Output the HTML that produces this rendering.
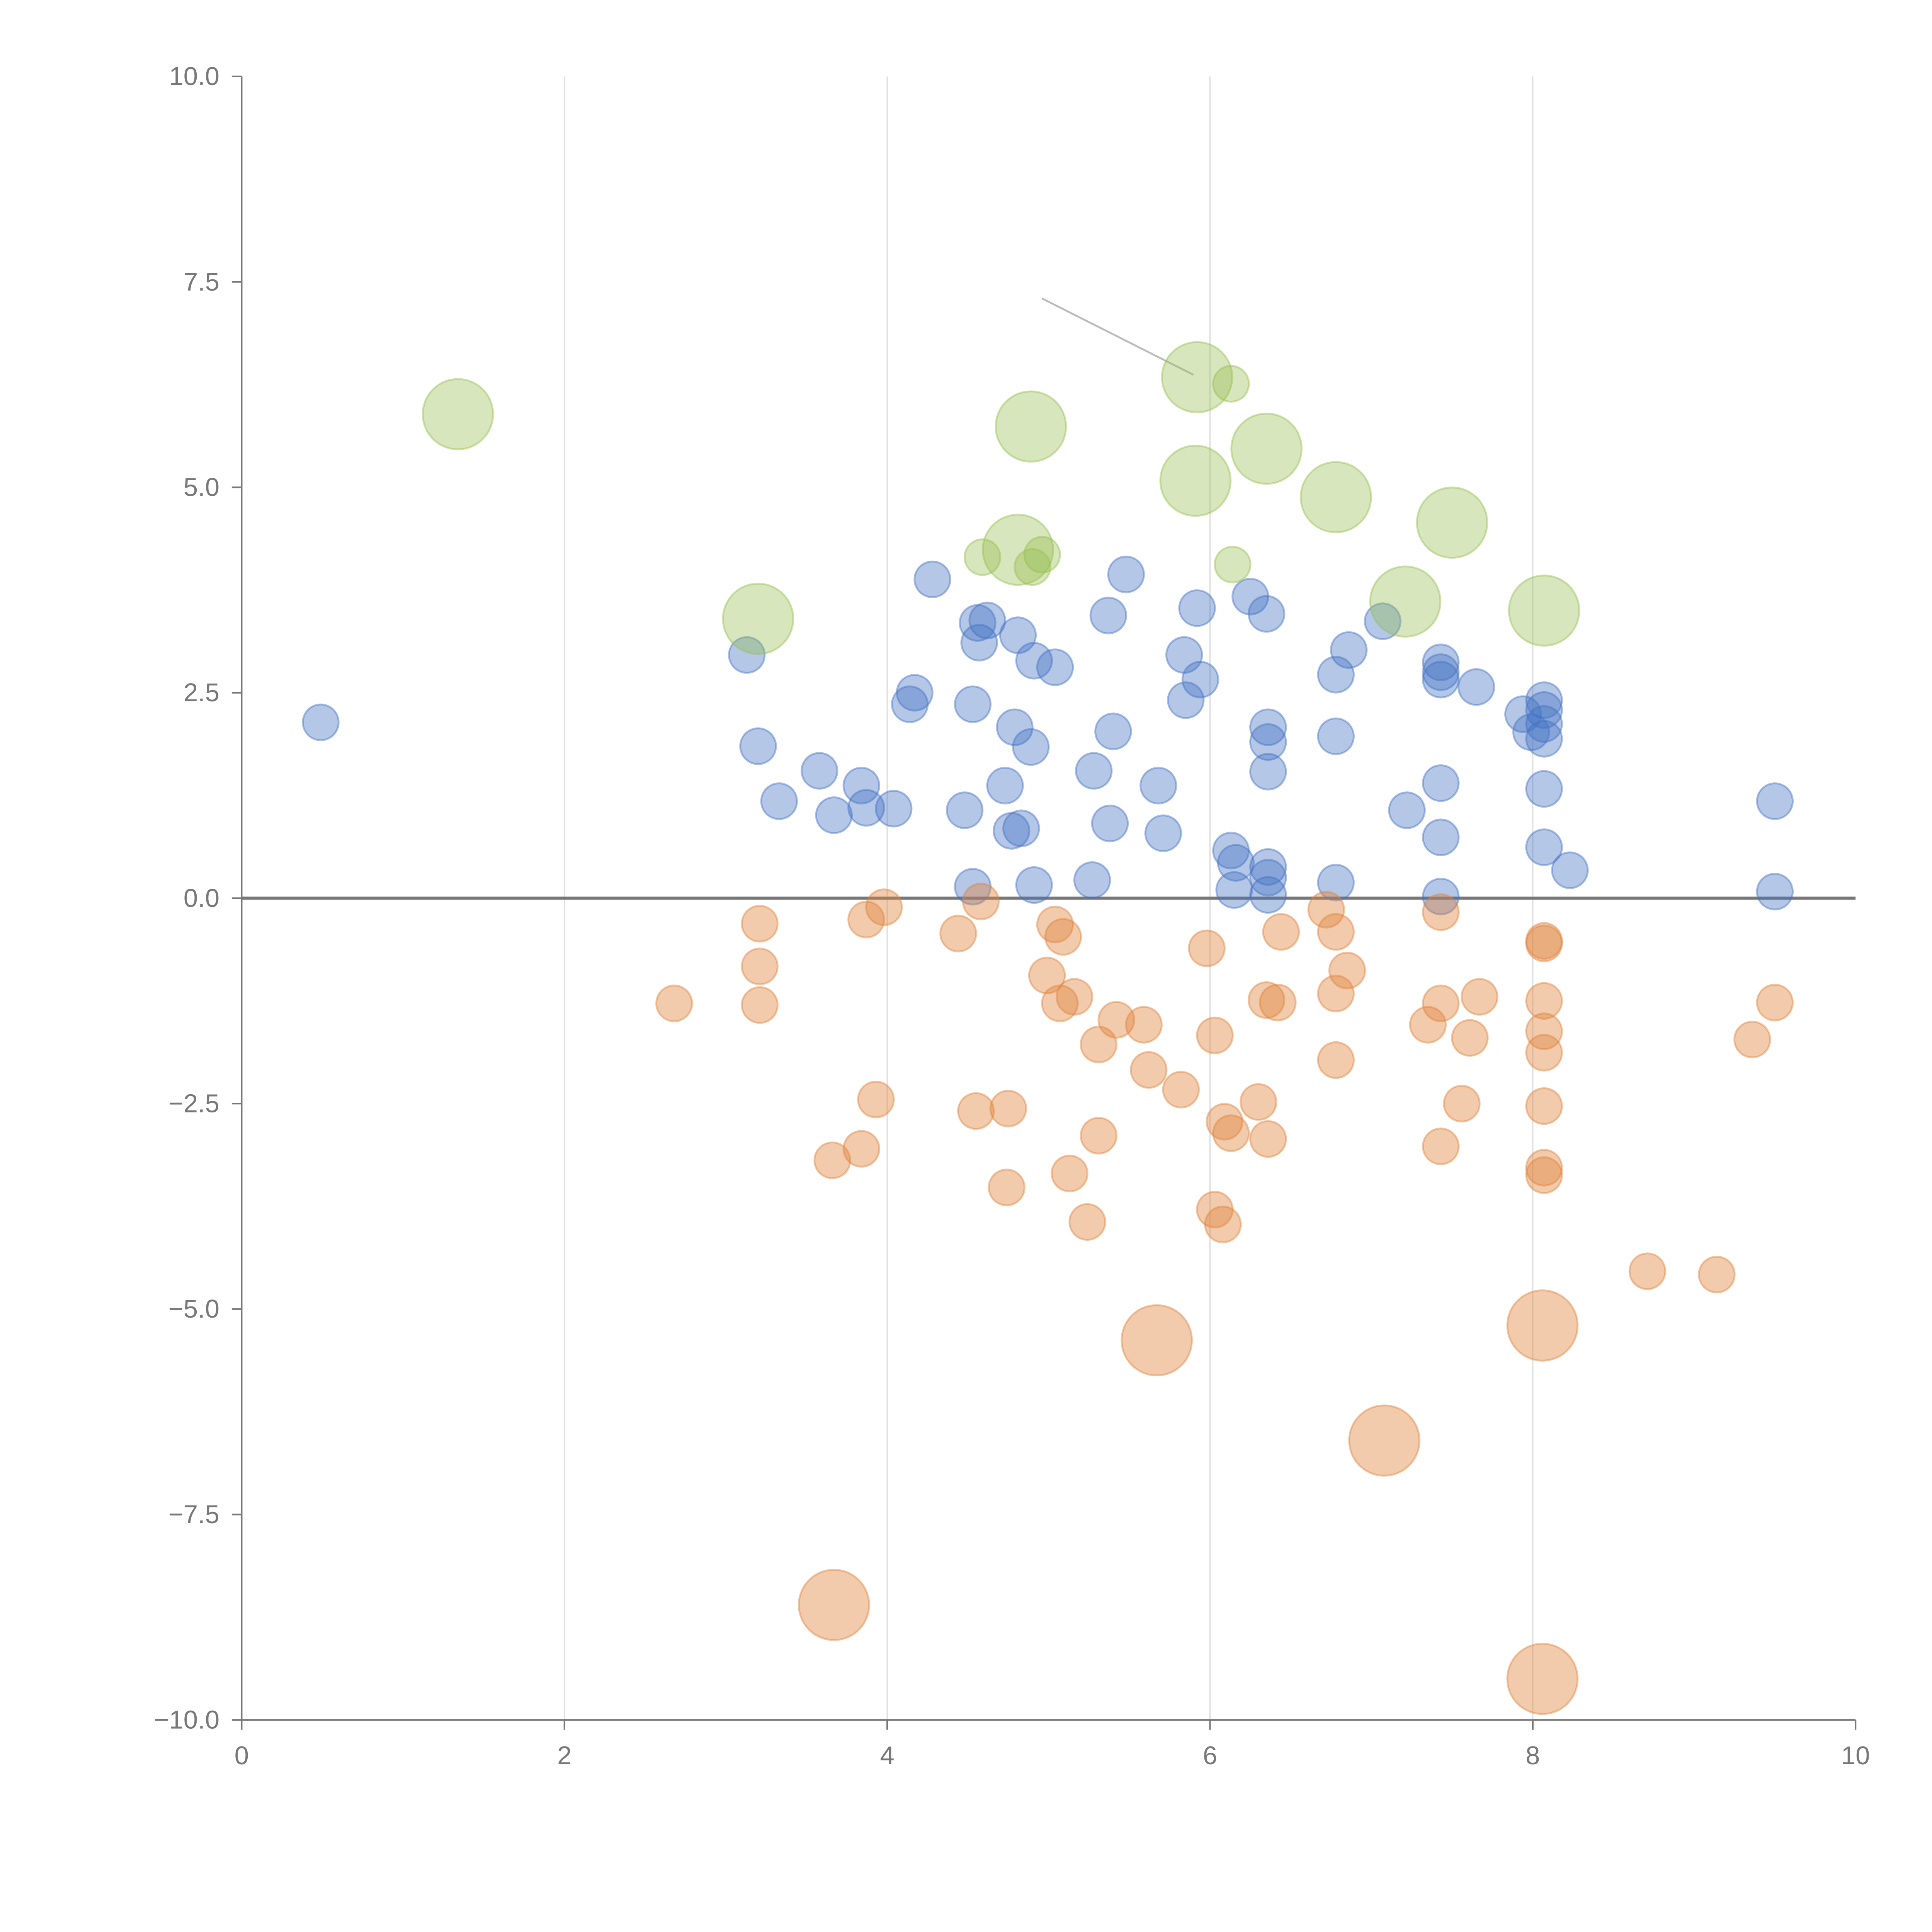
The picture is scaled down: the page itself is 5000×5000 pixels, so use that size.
<!DOCTYPE html>
<html><head><meta charset="utf-8"><style>
html,body{margin:0;padding:0;background:#fff;}
svg{display:block;}
text{font-family:"Liberation Sans",sans-serif;fill:#777;font-size:21px;}
</style></head><body>
<svg id="chart" width="5000" height="5000" viewBox="0 0 1567 1567" xmlns="http://www.w3.org/2000/svg">
<g id="grid"></g>
<g id="axes"></g>
<g id="marks"></g>
</svg>
<script>
const xTicks=[0,2,4,6,8,10];
const yTicks=[10,7.5,5,2.5,0,-2.5,-5,-7.5,-10];
const yTickLabels=["10.0","7.5","5.0","2.5","0.0","\u22122.5","\u22125.0","\u22127.5","\u221210.0"];
const blueX=[0.49,3.13,3.20,3.33,3.58,3.67,3.84,3.87,4.04,4.14,4.17,4.28,4.48,4.53,4.53,4.56,4.57,4.62,4.73,4.77,4.79,4.81,4.83,4.89,4.91,4.91,5.04,5.28,5.27,5.37,5.38,5.40,5.48,5.68,5.71,5.84,5.85,5.92,5.94,6.13,6.15,6.16,6.25,6.35,6.36,6.36,6.36,6.36,6.36,6.36,6.78,6.78,6.78,6.86,7.07,7.22,7.43,7.43,7.43,7.43,7.43,7.43,7.65,7.94,7.99,8.07,8.07,8.07,8.07,8.07,8.07,8.23,9.50,9.50];
const blueY=[2.14,2.96,1.85,1.18,1.55,1.01,1.37,1.10,1.09,2.36,2.50,3.88,1.07,2.36,0.14,3.35,3.11,3.38,1.37,0.82,2.08,3.20,0.85,1.84,2.89,0.16,2.81,1.55,0.22,3.44,0.91,2.03,3.94,1.37,0.79,2.96,2.41,3.53,2.66,0.58,0.10,0.43,3.67,3.46,2.08,1.90,1.54,0.38,0.25,0.04,2.72,1.97,0.19,3.02,3.37,1.07,2.87,2.75,2.66,1.40,0.74,0.02,2.57,2.24,2.02,2.41,2.29,2.12,1.94,1.33,0.62,0.34,1.18,0.08];
const orangeX=[2.68,3.21,3.21,3.21,3.66,3.84,3.87,3.93,3.98,4.44,4.55,4.58,4.74,4.75,4.99,5.04,5.07,5.09,5.13,5.16,5.24,5.31,5.31,5.42,5.59,5.62,5.82,5.98,6.03,6.03,6.08,6.09,6.13,6.30,6.35,6.36,6.42,6.44,6.72,6.78,6.78,6.78,6.85,7.35,7.43,7.43,7.43,7.56,7.61,7.67,8.07,8.07,8.07,8.07,8.07,8.07,8.07,8.07,8.71,9.14,9.36,9.50,5.67,7.08,8.06,3.67,8.06];
const orangeY=[-1.28,-0.31,-0.83,-1.30,-3.19,-3.05,-0.26,-2.45,-0.11,-0.43,-2.59,-0.04,-3.52,-2.56,-0.94,-0.32,-1.28,-0.47,-3.35,-1.20,-3.94,-1.78,-2.89,-1.48,-1.54,-2.09,-2.33,-0.61,-1.67,-3.79,-3.97,-2.72,-2.86,-2.48,-1.24,-2.93,-1.27,-0.41,-0.14,-0.41,-1.16,-1.97,-0.88,-1.54,-0.17,-1.28,-3.02,-2.50,-1.70,-1.20,-0.52,-0.55,-1.25,-1.62,-1.88,-2.53,-3.28,-3.37,-4.54,-4.58,-1.72,-1.27,-5.38,-6.60,-5.20,-8.60,-9.50];
const orangeSize=[1,1,1,1,1,1,1,1,1,1,1,1,1,1,1,1,1,1,1,1,1,1,1,1,1,1,1,1,1,1,1,1,1,1,1,1,1,1,1,1,1,1,1,1,1,1,1,1,1,1,1,1,1,1,1,1,1,1,1,1,1,1,2,2,2,2,2];
const greenX=[1.34,3.20,4.59,4.81,4.89,4.90,4.96,5.92,6.13,5.91,6.14,6.35,6.78,7.21,7.50,8.07];
const greenY=[5.89,3.40,4.15,4.24,5.74,4.03,4.18,6.34,6.26,5.08,4.06,5.47,4.88,3.61,4.57,3.50];
const greenSize=[2,2,1,2,2,1,1,2,1,2,1,2,2,2,2,2];
const X0=196,X1=1505,Y0=1395,Y1=62;
const sx=v=>X0+(v-0)/(10-0)*(X1-X0);
const sy=v=>Y0-(v+10)/20*(Y0-Y1);
const rs=s=>s===2?28.5:14.5;
const NS="http://www.w3.org/2000/svg";
function mk(tag,attrs,parent){const e=document.createElementNS(NS,tag);for(const k in attrs)e.setAttribute(k,attrs[k]);parent.appendChild(e);return e;}
const grid=document.getElementById('grid'),axes=document.getElementById('axes'),marks=document.getElementById('marks');
xTicks.forEach(t=>{
 if(t>0&&t<10){const g=mk('line',{x1:sx(t),x2:sx(t),y1:Y1,y2:Y0,stroke:'#ddd','stroke-width':1},grid);
 
 }
 const tk=mk('line',{x1:sx(t),x2:sx(t),y1:Y0,y2:Y0+8,stroke:'#777','stroke-width':1.3},axes);
 
 
 const tx=mk('text',{x:sx(t),y:Y0+36,'text-anchor':'middle'},axes);tx.textContent=String(t);
 
 
});
yTicks.forEach((t,i)=>{
 const tk=mk('line',{x1:X0-8,x2:X0,y1:sy(t),y2:sy(t),stroke:'#777','stroke-width':1.3},axes);
 
 
 const tx=mk('text',{x:X0-18,y:sy(t)+7,'text-anchor':'end'},axes);tx.textContent=yTickLabels[i];
 
 
});
const ya=mk('line',{x1:X0,x2:X0,y1:Y1,y2:Y0,stroke:'#777','stroke-width':1.3},axes);


const xa=mk('line',{x1:X0,x2:X1,y1:Y0,y2:Y0,stroke:'#777','stroke-width':1.3},axes);


const zl=mk('line',{x1:X0,x2:X1,y1:sy(0),y2:sy(0),stroke:'#777','stroke-width':2.5},axes);


const an=mk('line',{x1:845,y1:242,x2:968,y2:304,stroke:'#bbb','stroke-width':1.5},axes);


blueX.forEach((x,i)=>{const c=mk('circle',{cx:sx(x),cy:sy(blueY[i]),r:14.5,fill:'rgba(68,114,196,0.4)',stroke:'rgba(68,114,196,0.45)','stroke-width':1.5},marks);
 
 });
orangeX.forEach((x,i)=>{const c=mk('circle',{cx:sx(x),cy:sy(orangeY[i]),r:rs(orangeSize[i]),fill:'rgba(225,130,60,0.42)',stroke:'rgba(225,130,60,0.45)','stroke-width':1.5},marks);
 
 });
greenX.forEach((x,i)=>{const c=mk('circle',{cx:sx(x),cy:sy(greenY[i]),r:rs(greenSize[i]),fill:'rgba(150,190,80,0.38)',stroke:'rgba(150,190,80,0.45)','stroke-width':1.5},marks);
 
 });
</script>
</body></html>
